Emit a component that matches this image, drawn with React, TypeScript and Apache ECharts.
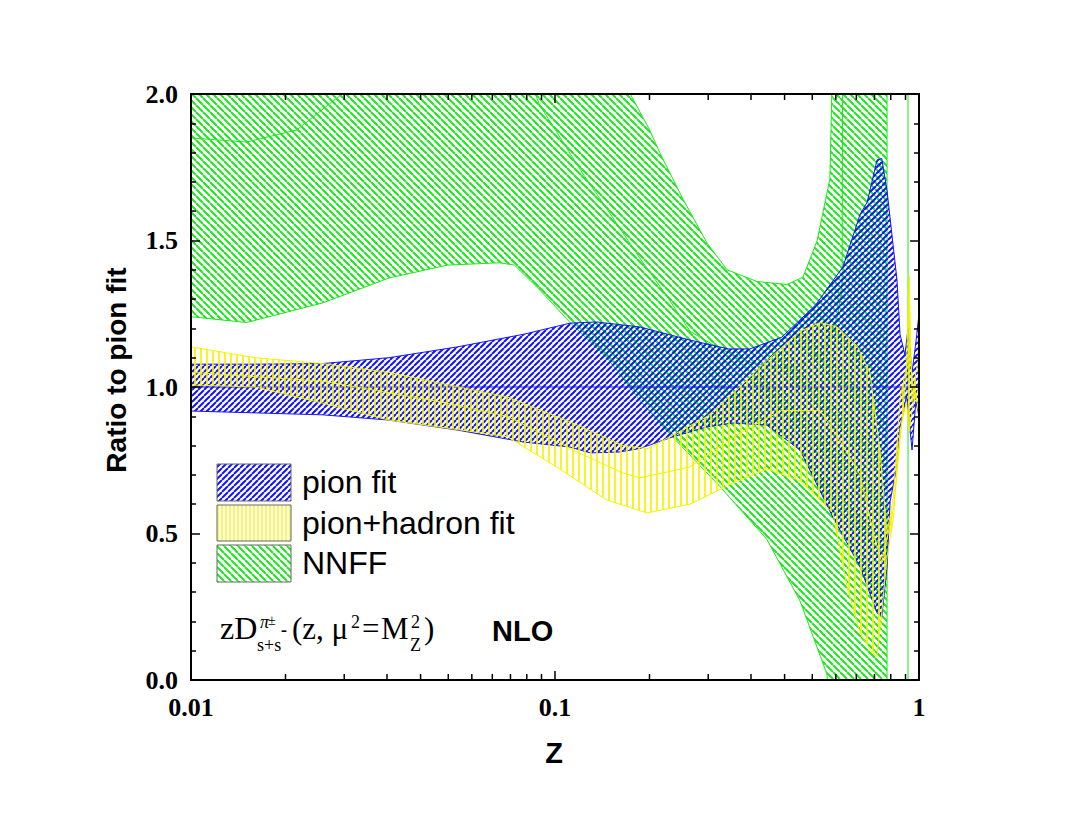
import { useEffect, useRef } from 'react';
import * as echarts from 'echarts';

type P = [number, number];

// ---- data (z, ratio) ----
const pionUpper: P[] = [
  [0.01, 1.078], [0.015, 1.078], [0.023, 1.08], [0.035, 1.1], [0.054, 1.137], [0.082, 1.18],
  [0.11, 1.218], [0.13, 1.222], [0.171, 1.205], [0.235, 1.16], [0.3, 1.13], [0.343, 1.13],
  [0.42, 1.17], [0.52, 1.28], [0.618, 1.41], [0.689, 1.59], [0.72, 1.63], [0.767, 1.775],
  [0.79, 1.78], [0.817, 1.67], [0.87, 1.365], [0.887, 1.18], [0.915, 1.11], [0.933, 1.2],
  [0.957, 1.05], [0.98, 1.15], [1.0, 1.25],
];
const pionLower: P[] = [
  [0.01, 0.918], [0.023, 0.905], [0.035, 0.887], [0.054, 0.853], [0.082, 0.812], [0.11, 0.795],
  [0.125, 0.775], [0.15, 0.778], [0.171, 0.79], [0.211, 0.83], [0.262, 0.864], [0.308, 0.877],
  [0.382, 0.87], [0.471, 0.785], [0.58, 0.556], [0.689, 0.386], [0.767, 0.229], [0.79, 0.215],
  [0.817, 0.386], [0.833, 0.61], [0.87, 0.73], [0.887, 0.86], [0.924, 0.97], [0.957, 0.785],
  [0.98, 0.95], [1.0, 0.9],
];
const pionCentral: P[] = [[0.01, 1.0], [1.0, 1.0]];

const hadUpper: P[] = [
  [0.01, 1.137], [0.015, 1.1], [0.023, 1.08], [0.035, 1.05], [0.048, 1.014], [0.074, 0.966],
  [0.112, 0.877], [0.154, 0.8], [0.18, 0.79], [0.211, 0.836], [0.262, 0.9], [0.316, 0.99],
  [0.382, 1.09], [0.471, 1.19], [0.535, 1.22], [0.595, 1.205], [0.676, 1.14], [0.733, 1.05],
  [0.781, 0.785], [0.817, 0.5], [0.85, 0.62], [0.887, 0.96], [0.924, 1.07], [0.94, 1.38],
  [0.957, 0.95], [0.98, 1.05], [1.0, 1.1],
];
const hadLower: P[] = [
  [0.01, 1.007], [0.015, 1.0], [0.023, 0.945], [0.035, 0.887], [0.054, 0.855], [0.074, 0.83],
  [0.101, 0.727], [0.139, 0.614], [0.179, 0.57], [0.235, 0.6], [0.308, 0.672], [0.382, 0.72],
  [0.471, 0.68], [0.58, 0.57], [0.634, 0.32], [0.689, 0.16], [0.747, 0.09], [0.766, 0.08],
  [0.79, 0.23], [0.817, 0.42], [0.85, 0.55], [0.887, 0.85], [0.924, 0.95], [0.94, 0.85],
  [0.957, 0.92], [0.98, 0.98], [1.0, 0.9],
];
const hadCentral: P[] = [
  [0.01, 1.05], [0.023, 1.02], [0.048, 0.95], [0.074, 0.9], [0.112, 0.785], [0.154, 0.706],
  [0.171, 0.69], [0.235, 0.727], [0.322, 0.843], [0.42, 0.92], [0.535, 0.92], [0.618, 0.8],
  [0.689, 0.7], [0.75, 0.5], [0.79, 0.4], [0.85, 0.58], [0.9, 0.9], [0.94, 1.15], [0.97, 0.95],
  [1.0, 1.0],
];

const nnffUpper: P[] = [
  [0.01, 2.5], [0.1, 2.5], [0.14, 2.2], [0.161, 2.0], [0.182, 1.877], [0.194, 1.8], [0.225, 1.64],
  [0.262, 1.49], [0.297, 1.4], [0.359, 1.36], [0.434, 1.35], [0.48, 1.375], [0.525, 1.5],
  [0.569, 1.71], [0.576, 2.0], [0.6, 2.6], [0.817, 2.6],
];
const nnffLower: P[] = [
  [0.01, 1.24], [0.0142, 1.22], [0.023, 1.287], [0.035, 1.372], [0.0506, 1.416], [0.0704, 1.424],
  [0.0774, 1.416], [0.091, 1.33], [0.11, 1.22], [0.139, 1.1], [0.171, 0.955], [0.203, 0.85],
  [0.284, 0.66], [0.382, 0.48], [0.471, 0.27], [0.5585, 0.02], [0.6, -0.4], [0.817, -0.6],
];
const nnffCentral: P[] = [
  [0.01, 1.85], [0.0142, 1.836], [0.0195, 1.877], [0.026, 2.0], [0.035, 2.2], [0.07, 2.3],
  [0.085, 2.05], [0.091, 1.96], [0.119, 1.73], [0.142, 1.59], [0.171, 1.44], [0.203, 1.31],
  [0.235, 1.19], [0.284, 1.13], [0.35, 1.08], [0.45, 1.06], [0.55, 1.12], [0.6, 1.25],
  [0.615, 1.36], [0.618, 2.6],
];
const nnffPole: P[] = [[0.933, -0.5], [0.933, 2.5]];

const xTickLabels = ['0.01', '0.1', '1'];
const yTickLabels = ['0.0', '0.5', '1.0', '1.5', '2.0'];
const xMinorTicks = [
  0.01818, 0.02636, 0.03455, 0.04273, 0.05091, 0.05909, 0.06727, 0.07545, 0.08364, 0.09182,
  0.1818, 0.2636, 0.3455, 0.4273, 0.5091, 0.5909, 0.6727, 0.7545, 0.8364, 0.9182,
];
const legendNames = ['pion fit', 'pion+hadron fit', 'NNFF'];

const BLUE = '#1414f5';
const YELLOW = '#f4f400';
const GREEN = '#1ee61e';
const SERIF = "'Times New Roman', 'Liberation Serif', serif";
const SANS = "Arial, 'Liberation Sans', sans-serif";

function makeHatch(kind: string, size: number, color: string, lw: number) {
  const c = document.createElement('canvas');
  c.width = size;
  c.height = size;
  const ctx = c.getContext('2d')!;
  ctx.strokeStyle = color;
  ctx.lineWidth = lw;
  ctx.beginPath();
  if (kind === '/') {
    for (const k of [-size, 0, size]) { ctx.moveTo(k, size); ctx.lineTo(k + size, 0); }
  } else if (kind === '\\') {
    for (const k of [-size, 0, size]) { ctx.moveTo(k, 0); ctx.lineTo(k + size, size); }
  } else {
    ctx.moveTo(size / 2, 0); ctx.lineTo(size / 2, size);
  }
  ctx.stroke();
  return { image: c, repeat: 'repeat', imageWidth: size, imageHeight: size };
}

function clipPoly(pts: number[][], r: { x: number; y: number; width: number; height: number }) {
  const bounds: [number, number, number][] = [
    [0, r.x, 1], [0, r.x + r.width, -1], [1, r.y, 1], [1, r.y + r.height, -1],
  ];
  let out = pts;
  for (const [ax, v, s] of bounds) {
    const inp = out;
    out = [];
    if (!inp.length) break;
    const ins = (p: number[]) => (p[ax] - v) * s >= 0;
    const inter = (a: number[], b: number[]) => {
      const t = (v - a[ax]) / (b[ax] - a[ax]);
      return [a[0] + (b[0] - a[0]) * t, a[1] + (b[1] - a[1]) * t];
    };
    for (let i = 0; i < inp.length; i++) {
      const cur = inp[i];
      const prev = inp[(i + inp.length - 1) % inp.length];
      const ci = ins(cur), pi = ins(prev);
      if (ci) {
        if (!pi) out.push(inter(prev, cur));
        out.push(cur);
      } else if (pi) {
        out.push(inter(prev, cur));
      }
    }
  }
  return out;
}

function bandSeries(name: string, upper: P[], lower: P[], fill: any, stroke: string, z: number) {
  return {
    type: 'custom',
    name,
    z,
    silent: true,
    data: upper,
    encode: { x: 0, y: 1 },
    renderItem: (params: any, api: any) => {
      if (params.dataIndex !== 0) return null;
      const pts = [
        ...upper.map((p) => api.coord(p)),
        ...lower.slice().reverse().map((p) => api.coord(p)),
      ];
      const clipped = clipPoly(pts, params.coordSys);
      return {
        type: 'polygon',
        shape: { points: clipped },
        style: { fill, stroke, lineWidth: 1 },
      };
    },
  };
}

function lineSeries(name: string, data: P[], color: string, z: number) {
  return {
    type: 'line',
    name,
    z,
    data,
    showSymbol: false,
    symbol: 'none',
    silent: true,
    clip: true,
    lineStyle: { color, width: 1 },
  };
}

function txt(text: string, x: number, y: number, size: number, family: string, extra: any = {}) {
  return {
    type: 'text',
    x,
    y,
    z: 100,
    rotation: extra.rotation || 0,
    style: {
      text,
      fill: '#000',
      fontSize: size,
      fontFamily: family,
      fontWeight: extra.weight || 'normal',
      fontStyle: extra.style || 'normal',
      align: extra.align || 'left',
      textAlign: extra.align || 'left',
      verticalAlign: 'middle',
      textVerticalAlign: 'middle',
    },
  };
}

export default function App() {
  const ref = useRef<HTMLDivElement>(null);
  useEffect(() => {
    if (!ref.current) return;
    const chart = echarts.init(ref.current, null, { renderer: 'svg' });
    const pBlue = makeHatch('/', 6, BLUE, 2);
    const pYellow = makeHatch('|', 6, YELLOW, 1.7);
    const pYellowLeg = makeHatch('|', 4, YELLOW, 1.3);
    const pGreen = makeHatch('\\', 7, GREEN, 2);

    const axisFont = { fontFamily: SERIF, fontWeight: 'bold', fontSize: 26, color: '#000' };
    const axLine = { show: true, onZero: false, lineStyle: { color: '#000', width: 2 } };
    const axTick = { show: true, inside: true, length: 9, lineStyle: { color: '#000', width: 1.5 } };

    const legendBoxes = [
      { y: 464, h: 37, fill: pBlue },
      { y: 505, h: 36, fill: pYellowLeg },
      { y: 545, h: 37, fill: pGreen },
    ];
    const legendTextY = [482, 523, 563];

    const graphic: any[] = [];
    legendBoxes.forEach((b, i) => {
      graphic.push({
        type: 'rect', z: 100,
        shape: { x: 217, y: b.y, width: 74, height: b.h },
        style: { fill: b.fill, stroke: '#666', lineWidth: 1 },
      });
      graphic.push(txt(legendNames[i], 302, legendTextY[i], 32, SANS));
    });
    graphic.push(txt('Ratio to pion fit', 116, 370, 28, SANS, { weight: 'bold', align: 'center', rotation: Math.PI / 2 }));
    graphic.push(txt('Z', 554, 753, 29, SANS, { weight: 'bold', align: 'center' }));
    graphic.push(txt('NLO', 492, 631, 29, SANS, { weight: 'bold' }));
    // formula zD^{pi±}_{s+sbar}(z, mu^2=M_Z^2)
    graphic.push(txt('zD', 220, 628, 32, SERIF));
    graphic.push(txt('π', 260, 622, 18, SERIF, { style: 'italic' }));
    graphic.push(txt('±', 268, 620, 14, SERIF));
    graphic.push(txt('s+s', 257, 645, 18, SERIF));
    graphic.push(txt('-', 281, 630, 18, SERIF, { weight: 'bold' }));
    graphic.push(txt('(z, μ', 292, 628, 31, SERIF));
    graphic.push(txt('2', 351, 622, 18, SERIF));
    graphic.push(txt('=', 362, 628, 31, SERIF));
    graphic.push(txt('M', 381, 628, 31, SERIF));
    graphic.push(txt('2', 411, 622, 18, SERIF));
    graphic.push(txt('Z', 410, 645, 18, SERIF));
    graphic.push(txt(')', 424, 628, 31, SERIF));

    const option: any = {
      animation: false,
      backgroundColor: '#fff',
      grid: { left: 191, right: 148, top: 94, bottom: 137, containLabel: false },
      xAxis: [
        {
          type: 'log', logBase: 10, min: 0.01, max: 1, position: 'bottom', z: 10,
          axisLine: axLine, axisTick: axTick,
          axisLabel: {
            ...axisFont, margin: 14, showMinLabel: true, showMaxLabel: true,
            formatter: (v: number) => xTickLabels[Math.round(Math.log10(v)) + 2] ?? '',
          },
          splitLine: { show: false },
        },
        {
          type: 'log', logBase: 10, min: 0.01, max: 1, position: 'top', z: 10,
          axisLine: axLine, axisTick: axTick, axisLabel: { show: false }, splitLine: { show: false },
        },
      ],
      yAxis: [
        {
          type: 'value', min: 0, max: 2, interval: 0.5, position: 'left', z: 10,
          axisLine: axLine, axisTick: axTick,
          minorTick: { show: true, splitNumber: 5, length: 5, lineStyle: { color: '#000', width: 1.5 } },
          axisLabel: { ...axisFont, margin: 13, formatter: (v: number) => yTickLabels[Math.round(v / 0.5)] },
          splitLine: { show: false },
        },
        {
          type: 'value', min: 0, max: 2, interval: 0.5, position: 'right', z: 10,
          axisLine: axLine, axisTick: axTick,
          minorTick: { show: true, splitNumber: 5, length: 5, lineStyle: { color: '#000', width: 1.5 } },
          axisLabel: { show: false },
          splitLine: { show: false },
        },
      ],
      series: [
        bandSeries('NNFF', nnffUpper, nnffLower, pGreen, GREEN, 2),
        lineSeries('NNFF central', nnffCentral, GREEN, 2),
        lineSeries('NNFF pole', nnffPole, GREEN, 2),
        bandSeries('pion fit', pionUpper, pionLower, pBlue, BLUE, 3),
        lineSeries('pion central', pionCentral, BLUE, 3),
        bandSeries('pion+hadron fit', hadUpper, hadLower, pYellow, YELLOW, 4),
        lineSeries('pion+hadron central', hadCentral, YELLOW, 4),
        {
          type: 'custom', name: 'minor ticks', z: 11, silent: true,
          data: xMinorTicks.map((v) => [v, 0]),
          renderItem: (params: any, api: any) => {
            const p = api.coord([api.value(0), 0]);
            const cs = params.coordSys;
            const yb = cs.y + cs.height;
            return {
              type: 'group',
              children: [
                { type: 'line', shape: { x1: p[0], y1: yb, x2: p[0], y2: yb - 6 }, style: { stroke: '#000', lineWidth: 1.5 } },
                { type: 'line', shape: { x1: p[0], y1: cs.y, x2: p[0], y2: cs.y + 6 }, style: { stroke: '#000', lineWidth: 1.5 } },
              ],
            };
          },
        },
      ],
      graphic,
    };
    chart.setOption(option);
    return () => chart.dispose();
  }, []);
  return (
    <div
      ref={ref}
      style={{ position: 'absolute', left: 0, top: 0, width: 1067, height: 817, background: '#fff' }}
    />
  );
}
